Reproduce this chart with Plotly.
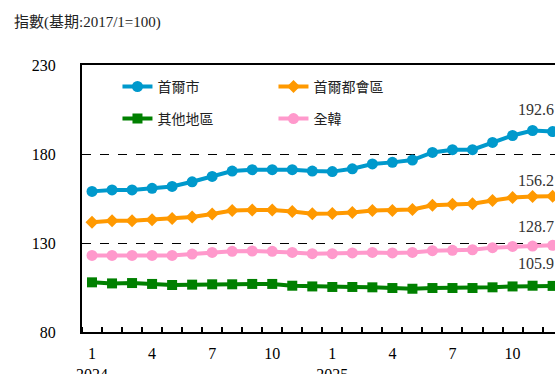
import plotly.graph_objects as go

months = list(range(1, 25))
tick_vals = [1, 4, 7, 10, 13, 16, 19, 22]
tick_text = ["1<br>2024", "4", "7", "10", "1<br>2025", "4", "7", "10"]

seoul = [159.0, 159.8, 159.8, 160.7, 161.8, 164.4, 167.4, 170.4, 171.2, 171.2, 171.2, 170.4,
         170.1, 171.7, 174.4, 175.3, 176.6, 180.9, 182.4, 182.4, 186.5, 190.4, 193.2, 192.6]
capital = [141.6, 142.5, 142.5, 143.1, 143.7, 144.6, 146.3, 148.3, 148.5, 148.5, 147.7, 146.5,
           146.6, 147.1, 148.2, 148.3, 148.8, 151.2, 151.8, 152.0, 153.9, 155.5, 156.1, 156.2]
other = [107.9, 107.3, 107.5, 107.0, 106.4, 106.6, 106.8, 106.8, 107.0, 107.0, 106.0, 105.6,
         105.3, 105.3, 105.1, 104.7, 104.3, 104.7, 104.7, 104.7, 105.1, 105.6, 106.0, 105.9]
nation = [123.0, 123.0, 123.0, 123.0, 123.0, 123.8, 124.7, 125.3, 125.5, 125.3, 124.7, 124.0,
          124.0, 124.4, 124.7, 124.4, 124.7, 125.7, 125.9, 126.2, 127.4, 128.1, 128.3, 128.7]

names = ["首爾市", "首爾都會區", "其他地區", "全韓"]
colors = ["#0099CC", "#FF9900", "#008000", "#FF99CC"]
symbols = ["circle", "diamond", "square", "circle"]
sizes = [11, 10, 10, 11]
series = [seoul, capital, other, nation]
legends = ["legend", "legend", "legend2", "legend2"]
label_shift = [22, 16, 22, 19]

SERIF = "Liberation Serif, Times New Roman, Noto Sans CJK TC, serif"
CJK = "Noto Sans CJK TC, sans-serif"

fig = go.Figure()
for i in [3, 2, 1, 0]:
    fig.add_trace(go.Scatter(
        x=months, y=series[i], name=names[i], mode="lines+markers",
        line=dict(color=colors[i], width=4),
        marker=dict(symbol=symbols[i], size=sizes[i], color=colors[i]),
        legend=legends[i], legendrank=i,
    ))

for i in range(4):
    fig.add_annotation(
        x=months[-1], y=series[i][-1], text=f"{series[i][-1]:.1f}",
        showarrow=False, xshift=-17, yshift=label_shift[i],
        font=dict(family=SERIF, size=16, color="#333333"),
    )

fig.add_annotation(
    xref="paper", yref="paper", x=-0.148, y=1.161, xanchor="left", yanchor="middle",
    text="指數(基期:2017/1=100)", showarrow=False,
    font=dict(family=SERIF, size=15, color="#222222"),
)

legend_common = dict(
    orientation="h", xanchor="left", yanchor="middle",
    font=dict(family=CJK, size=14, color="#222222"),
    bgcolor="rgba(0,0,0,0)", borderwidth=0,
    entrywidth=111, entrywidthmode="pixels",
    traceorder="normal", itemclick=False,
)

fig.update_layout(
    width=555, height=374,
    margin=dict(l=82, r=0, t=65, b=42, autoexpand=False),
    paper_bgcolor="white", plot_bgcolor="white",
    showlegend=True,
    legend=dict(x=0.075, y=0.918, **legend_common),
    legend2=dict(x=0.075, y=0.798, **legend_common),
    xaxis=dict(
        range=[0.5, 24.12], tickvals=tick_vals, ticktext=tick_text,
        ticks="", showgrid=False, zeroline=False, automargin=False,
        showline=True, linecolor="black", linewidth=2, mirror=True,
        tickfont=dict(family=SERIF, size=16, color="black"),
        ticklabelstandoff=6,
        minor=dict(tick0=0.5, dtick=1, ticks="inside", ticklen=5,
                   tickcolor="black", tickwidth=1.5, showgrid=False),
    ),
    yaxis=dict(
        range=[80, 230], tickvals=[80, 130, 180, 230],
        ticks="", showgrid=True, gridcolor="black", gridwidth=1, griddash="dash",
        zeroline=False, showline=True, linecolor="black", linewidth=2, automargin=False,
        tickfont=dict(family=SERIF, size=16, color="black"),
        ticklabelstandoff=21,
    ),
)

fig.write_html(
    "out.html",
    config={"displayModeBar": False},
    post_script="document.body.style.margin='0';document.body.style.overflow='hidden';",
)
